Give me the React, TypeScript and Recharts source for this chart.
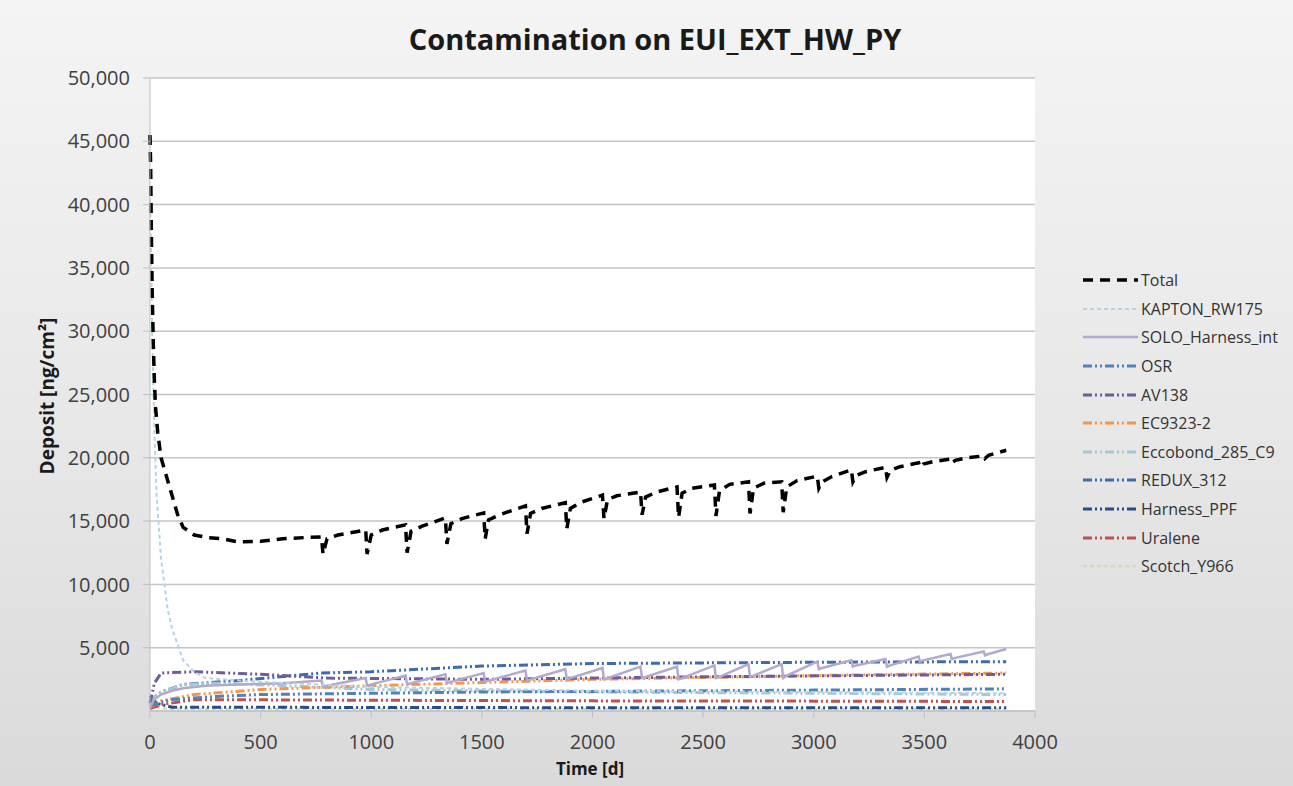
import React from 'react';
import { LineChart, Line, XAxis, YAxis, CartesianGrid } from 'recharts';

// time [d] / deposit [ng/cm²]
const totalT = [0, 3, 6, 10, 15, 20, 25, 35, 50, 75, 100, 125, 150, 200, 260, 330, 400, 500, 600, 700,
  775, 782, 800, 850, 975, 981, 1000, 1050, 1155, 1162, 1180, 1230, 1335, 1342, 1360, 1410,
  1508, 1515, 1530, 1580, 1697, 1704, 1720, 1770, 1877, 1884, 1900, 1950, 2045, 2052, 2068, 2110,
  2217, 2224, 2240, 2290, 2382, 2389, 2405, 2450, 2551, 2558, 2574, 2620, 2705, 2712, 2728, 2775,
  2855, 2862, 2878, 2925, 3016, 3023, 3038, 3080, 3170, 3177, 3192, 3235, 3324, 3331, 3346, 3390,
  3474, 3480, 3495, 3540, 3618, 3624, 3640, 3690, 3768, 3774, 3790, 3870];
const totalV = [45500, 43000, 38000, 33000, 29000, 26000, 24000, 22000, 20000, 18500, 17000, 15500, 14500, 13900, 13700, 13600, 13350, 13400, 13600, 13700,
  13750, 12400, 13600, 13900, 14300, 12400, 13900, 14300, 14700, 12500, 14200, 14600, 15250, 13200, 14800, 15200,
  15650, 13600, 15100, 15500, 16200, 14000, 15600, 16000, 16450, 14400, 16000, 16500, 17050, 15200, 16700, 17000,
  17300, 15500, 16900, 17300, 17700, 15300, 17200, 17600, 17850, 15400, 17400, 17900, 18100, 15600, 17600, 18000,
  18100, 15700, 17700, 18200, 18550, 17600, 18100, 18500, 19050, 18100, 18600, 18900, 19250, 18450, 19000, 19300,
  19600, 19250, 19500, 19700, 19900, 19600, 19800, 20000, 20150, 19950, 20200, 20600];

const kaptonT = [0, 5, 10, 20, 30, 50, 80, 100, 150, 200, 250, 500, 1000, 2000, 3000, 3870];
const kaptonV = [41000, 36000, 30000, 22000, 17000, 12000, 8000, 6500, 4000, 3100, 2600, 2300, 1900, 1600, 1500, 1400];

const soloT = [0, 20, 50, 100, 150, 250, 400, 600, 775, 782, 800, 975, 981, 1000, 1155, 1162, 1180,
  1335, 1342, 1360, 1508, 1515, 1530, 1697, 1704, 1720, 1877, 1884, 1900, 2045, 2052, 2068,
  2217, 2224, 2240, 2382, 2389, 2405, 2551, 2558, 2574, 2705, 2712, 2728, 2855, 2862, 2878,
  3016, 3023, 3038, 3170, 3177, 3192, 3324, 3331, 3346, 3474, 3480, 3495, 3618, 3624, 3640,
  3768, 3774, 3790, 3870];
const soloV = [300, 900, 1300, 1600, 1800, 2000, 2100, 2200, 2400, 1900, 2000, 2600, 2000, 2100, 2800, 2100, 2200,
  2900, 2200, 2300, 3000, 2300, 2400, 3200, 2400, 2500, 3300, 2500, 2600, 3400, 2500, 2600,
  3500, 2600, 2700, 3500, 2500, 2600, 3600, 2600, 2700, 3700, 2700, 2800, 3700, 2600, 2800,
  3900, 3300, 3400, 4000, 3500, 3600, 4100, 3500, 3600, 4300, 3900, 4000, 4500, 4100, 4200,
  4700, 4400, 4500, 4900];

const osrT = [0, 50, 100, 300, 500, 1000, 1500, 2000, 3000, 3870];
const osrV = [400, 700, 900, 1150, 1300, 1400, 1500, 1550, 1650, 1750];

const av138T = [0, 20, 50, 200, 500, 800, 1500, 2500, 3870];
const av138V = [600, 2200, 3000, 3100, 2900, 2600, 2500, 2700, 2900];

const ec9323T = [0, 50, 200, 500, 1000, 1500, 2000, 2500, 3000, 3870];
const ec9323V = [300, 800, 1300, 1700, 2000, 2250, 2500, 2650, 2800, 3000];

const eccobondT = [0, 50, 150, 300, 600, 1000, 2000, 3000, 3870];
const eccobondV = [800, 1500, 2100, 2200, 2000, 1700, 1500, 1400, 1300];

const reduxT = [0, 50, 150, 400, 770, 1000, 1500, 2000, 3000, 3870];
const reduxV = [800, 1500, 2100, 2400, 3000, 3100, 3550, 3750, 3850, 3900];

const harnessT = [0, 30, 100, 1000, 2000, 3870];
const harnessV = [1200, 600, 300, 280, 260, 250];

const uraleneT = [0, 50, 200, 1000, 2000, 3000, 3870];
const uraleneV = [200, 500, 900, 850, 800, 780, 750];

const scotchT = [0, 50, 200, 2000, 3870];
const scotchV = [600, 200, 150, 150, 150];

const xTicks = [0, 500, 1000, 1500, 2000, 2500, 3000, 3500, 4000];
const yTicks = [5000, 10000, 15000, 20000, 25000, 30000, 35000, 40000, 45000, 50000];

const zip = (t: number[], v: number[]) => t.map((x, i) => ({ t: x, v: v[i] }));

const DDD = '9 3 2 3 2 3';

const series = [
  { name: 'Total', data: zip(totalT, totalV), color: '#000000', width: 3.5, dash: '10 7' },
  { name: 'KAPTON_RW175', data: zip(kaptonT, kaptonV), color: '#b4d4e4', width: 2, dash: '4 3' },
  { name: 'SOLO_Harness_int', data: zip(soloT, soloV), color: '#b2a9cb', width: 2.5, dash: undefined },
  { name: 'OSR', data: zip(osrT, osrV), color: '#4f81bd', width: 3, dash: DDD },
  { name: 'AV138', data: zip(av138T, av138V), color: '#6b5e9b', width: 3, dash: DDD },
  { name: 'EC9323-2', data: zip(ec9323T, ec9323V), color: '#f79646', width: 3, dash: DDD },
  { name: 'Eccobond_285_C9', data: zip(eccobondT, eccobondV), color: '#a5c8d8', width: 3, dash: DDD },
  { name: 'REDUX_312', data: zip(reduxT, reduxV), color: '#3d6bb0', width: 3, dash: DDD },
  { name: 'Harness_PPF', data: zip(harnessT, harnessV), color: '#254d8a', width: 3, dash: DDD },
  { name: 'Uralene', data: zip(uraleneT, uraleneV), color: '#c0504d', width: 3, dash: DDD },
  { name: 'Scotch_Y966', data: zip(scotchT, scotchV), color: '#d3dbbd', width: 2.5, dash: '4 3' },
];

const font = '"Open Sans", sans-serif';

export default function App() {
  const drawOrder = [...series.slice(1)].reverse().concat(series[0]);
  return (
    <div style={{ position: 'relative', width: 1293, height: 786, fontFamily: font,
      background: 'linear-gradient(180deg, #f4f4f4 0%, #e6e6e6 60%, #dadada 100%)' }}>
      <style>{'body{margin:0}'}</style>
      <div style={{ position: 'absolute', left: 0, top: 21, width: 1310, textAlign: 'center',
        fontSize: 29, lineHeight: '36px', fontWeight: 700, color: '#1a1a1a' }}>
        Contamination on EUI_EXT_HW_PY
      </div>
      <LineChart width={1293} height={786} margin={{ top: 78, right: 258, left: 0, bottom: 35 }}>
        <CartesianGrid vertical={false} stroke="#c4c4c4" strokeWidth={1.5} fill="#ffffff" />
        <XAxis dataKey="t" type="number" domain={[0, 4000]} ticks={xTicks} height={40}
          stroke="#bfbfbf" tickSize={7} tickMargin={17}
          tick={{ fill: '#404040', fontSize: 20, fontFamily: font }} />
        <YAxis type="number" domain={[0, 50000]} ticks={yTicks} width={150}
          stroke="#bfbfbf" tickSize={7} tickMargin={13}
          tickFormatter={(v: number) => v.toLocaleString('en-US')}
          tick={{ fill: '#404040', fontSize: 20, fontFamily: font }} />
        {drawOrder.map(s => (
          <Line key={s.name} data={s.data} dataKey="v" name={s.name} type="linear"
            stroke={s.color} strokeWidth={s.width} strokeDasharray={s.dash}
            dot={false} isAnimationActive={false} />
        ))}
      </LineChart>
      <div style={{ position: 'absolute', left: 590, top: 760, transform: 'translateX(-50%)',
        fontSize: 17, lineHeight: '17px', fontWeight: 700, color: '#1a1a1a' }}>Time [d]</div>
      <div style={{ position: 'absolute', left: 47, top: 396, transform: 'translate(-50%, -50%) rotate(-90deg)',
        fontSize: 19, lineHeight: '20px', fontWeight: 700, color: '#1a1a1a', whiteSpace: 'nowrap' }}>Deposit [ng/cm²]</div>
      <div style={{ position: 'absolute', left: 1083, top: 266 }}>
        {series.map(s => (
          <div key={s.name} style={{ display: 'flex', alignItems: 'center', height: 28.6 }}>
            <svg width={56} height={10}>
              <line x1={0} y1={5} x2={55} y2={5} stroke={s.color} strokeWidth={s.width}
                strokeDasharray={s.dash} />
            </svg>
            <span style={{ fontSize: 16, color: '#333', marginLeft: 2 }}>{s.name}</span>
          </div>
        ))}
      </div>
    </div>
  );
}
